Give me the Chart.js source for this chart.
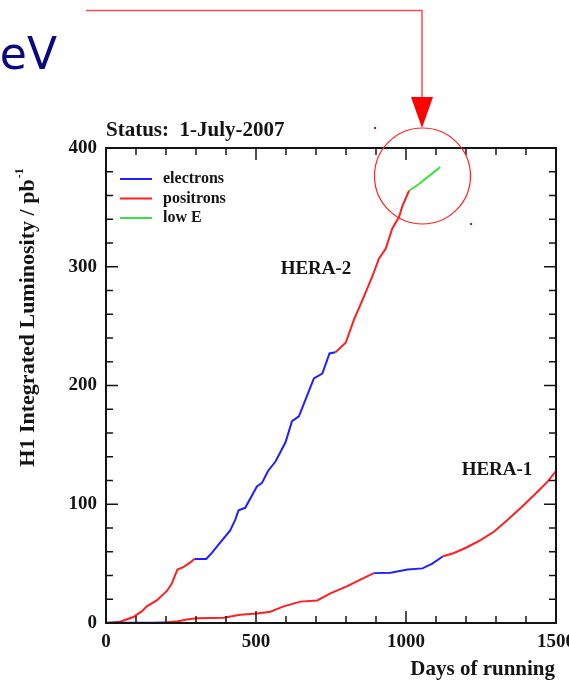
<!DOCTYPE html>
<html>
<head>
<meta charset="utf-8">
<script src="https://cdn.jsdelivr.net/npm/chart.js@4.4.1/dist/chart.umd.min.js"></script>
<style>
  html, body { margin: 0; padding: 0; background: #fff; }
  canvas { display: block; }
</style>
</head>
<body>
<canvas id="lumiChart" width="569" height="682"></canvas>
<script>
// HERA-2 (upper curve)
const h2PosDays1 = [0, 20, 47, 91, 120, 136, 169, 203, 219, 238, 258, 281, 295];
const h2PosLumi1 = [0, 0.5, 1, 5, 10, 14, 19, 27, 33, 45, 47, 51, 54];
const h2EleDays = [295, 334, 353, 375, 414, 431, 442, 464, 503, 520, 540, 565, 598, 620, 643, 668, 693, 721, 745, 765];
const h2EleLumi = [54, 54, 59, 66, 78, 87, 95, 97, 115, 118, 128, 136, 152, 170, 174, 190, 206, 210, 227, 228];
const h2PosDays2 = [765, 799, 826, 860, 888, 910, 932, 954, 977, 988, 1010];
const h2PosLumi2 = [228, 236, 255, 275, 292, 307, 315, 332, 342, 351, 364];
const h2LowEDays = [1010, 1040, 1060, 1085, 1114];
const h2LowELumi = [364, 369, 373, 378, 384];

// HERA-1 (lower curve)
const h1EleDays1 = [0, 100, 150, 200];
const h1EleLumi1 = [0.3, 0.3, 0.3, 0.5];
const h1PosDays1 = [200, 240, 270, 303, 350, 392, 448, 503, 548, 592, 648, 704, 748, 804, 860, 893];
const h1PosLumi1 = [0.5, 1.5, 3, 4, 4.2, 4.5, 7, 8, 9.5, 14, 18, 19, 25, 31, 38, 42];
const h1EleDays2 = [893, 949, 1005, 1055, 1088, 1122];
const h1EleLumi2 = [42, 42.4, 45, 46, 50, 56];
const h1PosDays2 = [1122, 1160, 1205, 1250, 1294, 1339, 1383, 1428, 1472, 1500];
const h1PosLumi2 = [56, 59, 64, 70, 77, 87, 97, 108, 119, 128];

const legendLabels = ["electrons", "positrons", "low E"];
const xTickLabels = [0, 500, 1000, 1500];
const yTickLabels = [0, 100, 200, 300, 400];

const BLUE = "#1f1fff";
const RED = "#ff1f1f";
const GREEN = "#3ee03e";
const TEXT = "#141414";
const SERIF = "'Liberation Serif', 'DejaVu Serif', serif";

function pts(days, lumi) {
    return days.map(function (d, i) { return { x: d, y: lumi[i] }; });
}

function line(days, lumi, color) {
    return {
        data: pts(days, lumi),
        borderColor: color,
        borderWidth: 2,
        showLine: true,
        pointRadius: 0,
        fill: false,
        tension: 0
    };
}

// frame, inward ticks, labels and the slide decorations
const decor = {
    id: "decor",
    afterDraw: function (chart) {
        const ctx = chart.ctx;
        const a = chart.chartArea;
        const xs = chart.scales.x;
        const ys = chart.scales.y;
        ctx.save();

        ctx.strokeStyle = TEXT;
        ctx.lineWidth = 2;
        ctx.strokeRect(a.left, a.top, a.right - a.left, a.bottom - a.top);

        ctx.lineWidth = 1.5;
        ctx.beginPath();
        xs.ticks.forEach(function (t) {
            const px = xs.getPixelForValue(t.value);
            const len = t.value % 500 === 0 ? 12 : 7;
            ctx.moveTo(px, a.bottom); ctx.lineTo(px, a.bottom - len);
            ctx.moveTo(px, a.top); ctx.lineTo(px, a.top + len);
        });
        ys.ticks.forEach(function (t) {
            const py = ys.getPixelForValue(t.value);
            const len = t.value % 100 === 0 ? 12 : 7;
            ctx.moveTo(a.left, py); ctx.lineTo(a.left + len, py);
            ctx.moveTo(a.right, py); ctx.lineTo(a.right - len, py);
        });
        ctx.stroke();

        ctx.fillStyle = TEXT;
        ctx.textBaseline = "middle";

        ctx.font = "bold 21px " + SERIF;
        ctx.textAlign = "left";
        ctx.fillText("Status:  1-July-2007", 106, 131);

        ctx.textAlign = "right";
        ctx.fillText("Days of running", 555, 670);

        ctx.font = "bold 19px " + SERIF;
        ctx.textAlign = "center";
        ctx.fillText("HERA-2", 316, 269);
        ctx.fillText("HERA-1", 497, 470);

        // rotated y title with superscript
        ctx.save();
        ctx.translate(28, 318);
        ctx.rotate(-Math.PI / 2);
        ctx.font = "bold 22px " + SERIF;
        const main = "H1 Integrated Luminosity / pb";
        const wMain = ctx.measureText(main).width;
        ctx.font = "bold 12px " + SERIF;
        const wSup = ctx.measureText("-1").width;
        const x0 = -(wMain + wSup) / 2;
        ctx.textAlign = "left";
        ctx.font = "bold 22px " + SERIF;
        ctx.fillText(main, x0, 0);
        ctx.font = "bold 12px " + SERIF;
        ctx.fillText("-1", x0 + wMain + 1, -8);
        ctx.restore();

        // legend
        const colors = [BLUE, RED, GREEN];
        ctx.font = "bold 16px " + SERIF;
        ctx.textAlign = "left";
        legendLabels.forEach(function (lab, i) {
            const y = 179 + i * 19.5;
            ctx.strokeStyle = colors[i];
            ctx.lineWidth = 2;
            ctx.beginPath();
            ctx.moveTo(120, y); ctx.lineTo(152, y);
            ctx.stroke();
            ctx.fillStyle = TEXT;
            ctx.fillText(lab, 163, y);
        });

        // slide decorations
        ctx.fillStyle = "#0a0a80";
        ctx.font = "44px 'DejaVu Sans', sans-serif";
        ctx.textAlign = "right";
        ctx.textBaseline = "alphabetic";
        ctx.fillText("GeV", 57, 69);

        ctx.strokeStyle = "#ff4a4a";
        ctx.lineWidth = 1.5;
        ctx.beginPath();
        ctx.moveTo(86, 10.5); ctx.lineTo(422, 10.5); ctx.lineTo(422, 100);
        ctx.stroke();
        ctx.fillStyle = "#ff0000";
        ctx.beginPath();
        ctx.moveTo(411, 97); ctx.lineTo(433, 97); ctx.lineTo(422, 128);
        ctx.closePath();
        ctx.fill();

        ctx.strokeStyle = "#ff2020";
        ctx.lineWidth = 1.2;
        ctx.beginPath();
        ctx.arc(422.5, 176, 48, 0, Math.PI * 2);
        ctx.stroke();
        ctx.fillRect(374, 127, 2, 2);
        ctx.fillRect(470, 223, 2, 2);

        ctx.restore();
    }
};

new Chart(document.getElementById("lumiChart"), {
    type: "scatter",
    data: {
        datasets: [
            line(h1EleDays1, h1EleLumi1, BLUE),
            line(h1PosDays1, h1PosLumi1, RED),
            line(h1EleDays2, h1EleLumi2, BLUE),
            line(h1PosDays2, h1PosLumi2, RED),
            line(h2PosDays1, h2PosLumi1, RED),
            line(h2EleDays, h2EleLumi, BLUE),
            line(h2PosDays2, h2PosLumi2, RED),
            line(h2LowEDays, h2LowELumi, GREEN)
        ]
    },
    options: {
        responsive: false,
        animation: false,
        devicePixelRatio: 1,
        layout: { padding: { left: 0, right: 13, top: 148, bottom: 0 } },
        plugins: {
            legend: { display: false },
            tooltip: { enabled: false }
        },
        scales: {
            x: {
                type: "linear",
                min: 0,
                max: 1500,
                grid: { display: false, drawTicks: false },
                border: { display: false },
                ticks: {
                    stepSize: 100,
                    autoSkip: false,
                    maxRotation: 0,
                    padding: 8,
                    color: TEXT,
                    font: { family: SERIF, size: 19, weight: "bold" },
                    callback: function (v) { return xTickLabels.includes(v) ? String(v) : ""; }
                },
                afterFit: function (s) { s.height = 59; s.paddingLeft = 0; s.paddingRight = 0; }
            },
            y: {
                min: 0,
                max: 400,
                grid: { display: false, drawTicks: false },
                border: { display: false },
                ticks: {
                    stepSize: 20,
                    autoSkip: false,
                    padding: 9,
                    color: TEXT,
                    font: { family: SERIF, size: 19, weight: "bold" },
                    callback: function (v) { return yTickLabels.includes(v) ? String(v) : ""; }
                },
                afterFit: function (s) { s.width = 106; s.paddingTop = 0; s.paddingBottom = 0; }
            }
        }
    },
    plugins: [decor]
});
</script>
</body>
</html>
